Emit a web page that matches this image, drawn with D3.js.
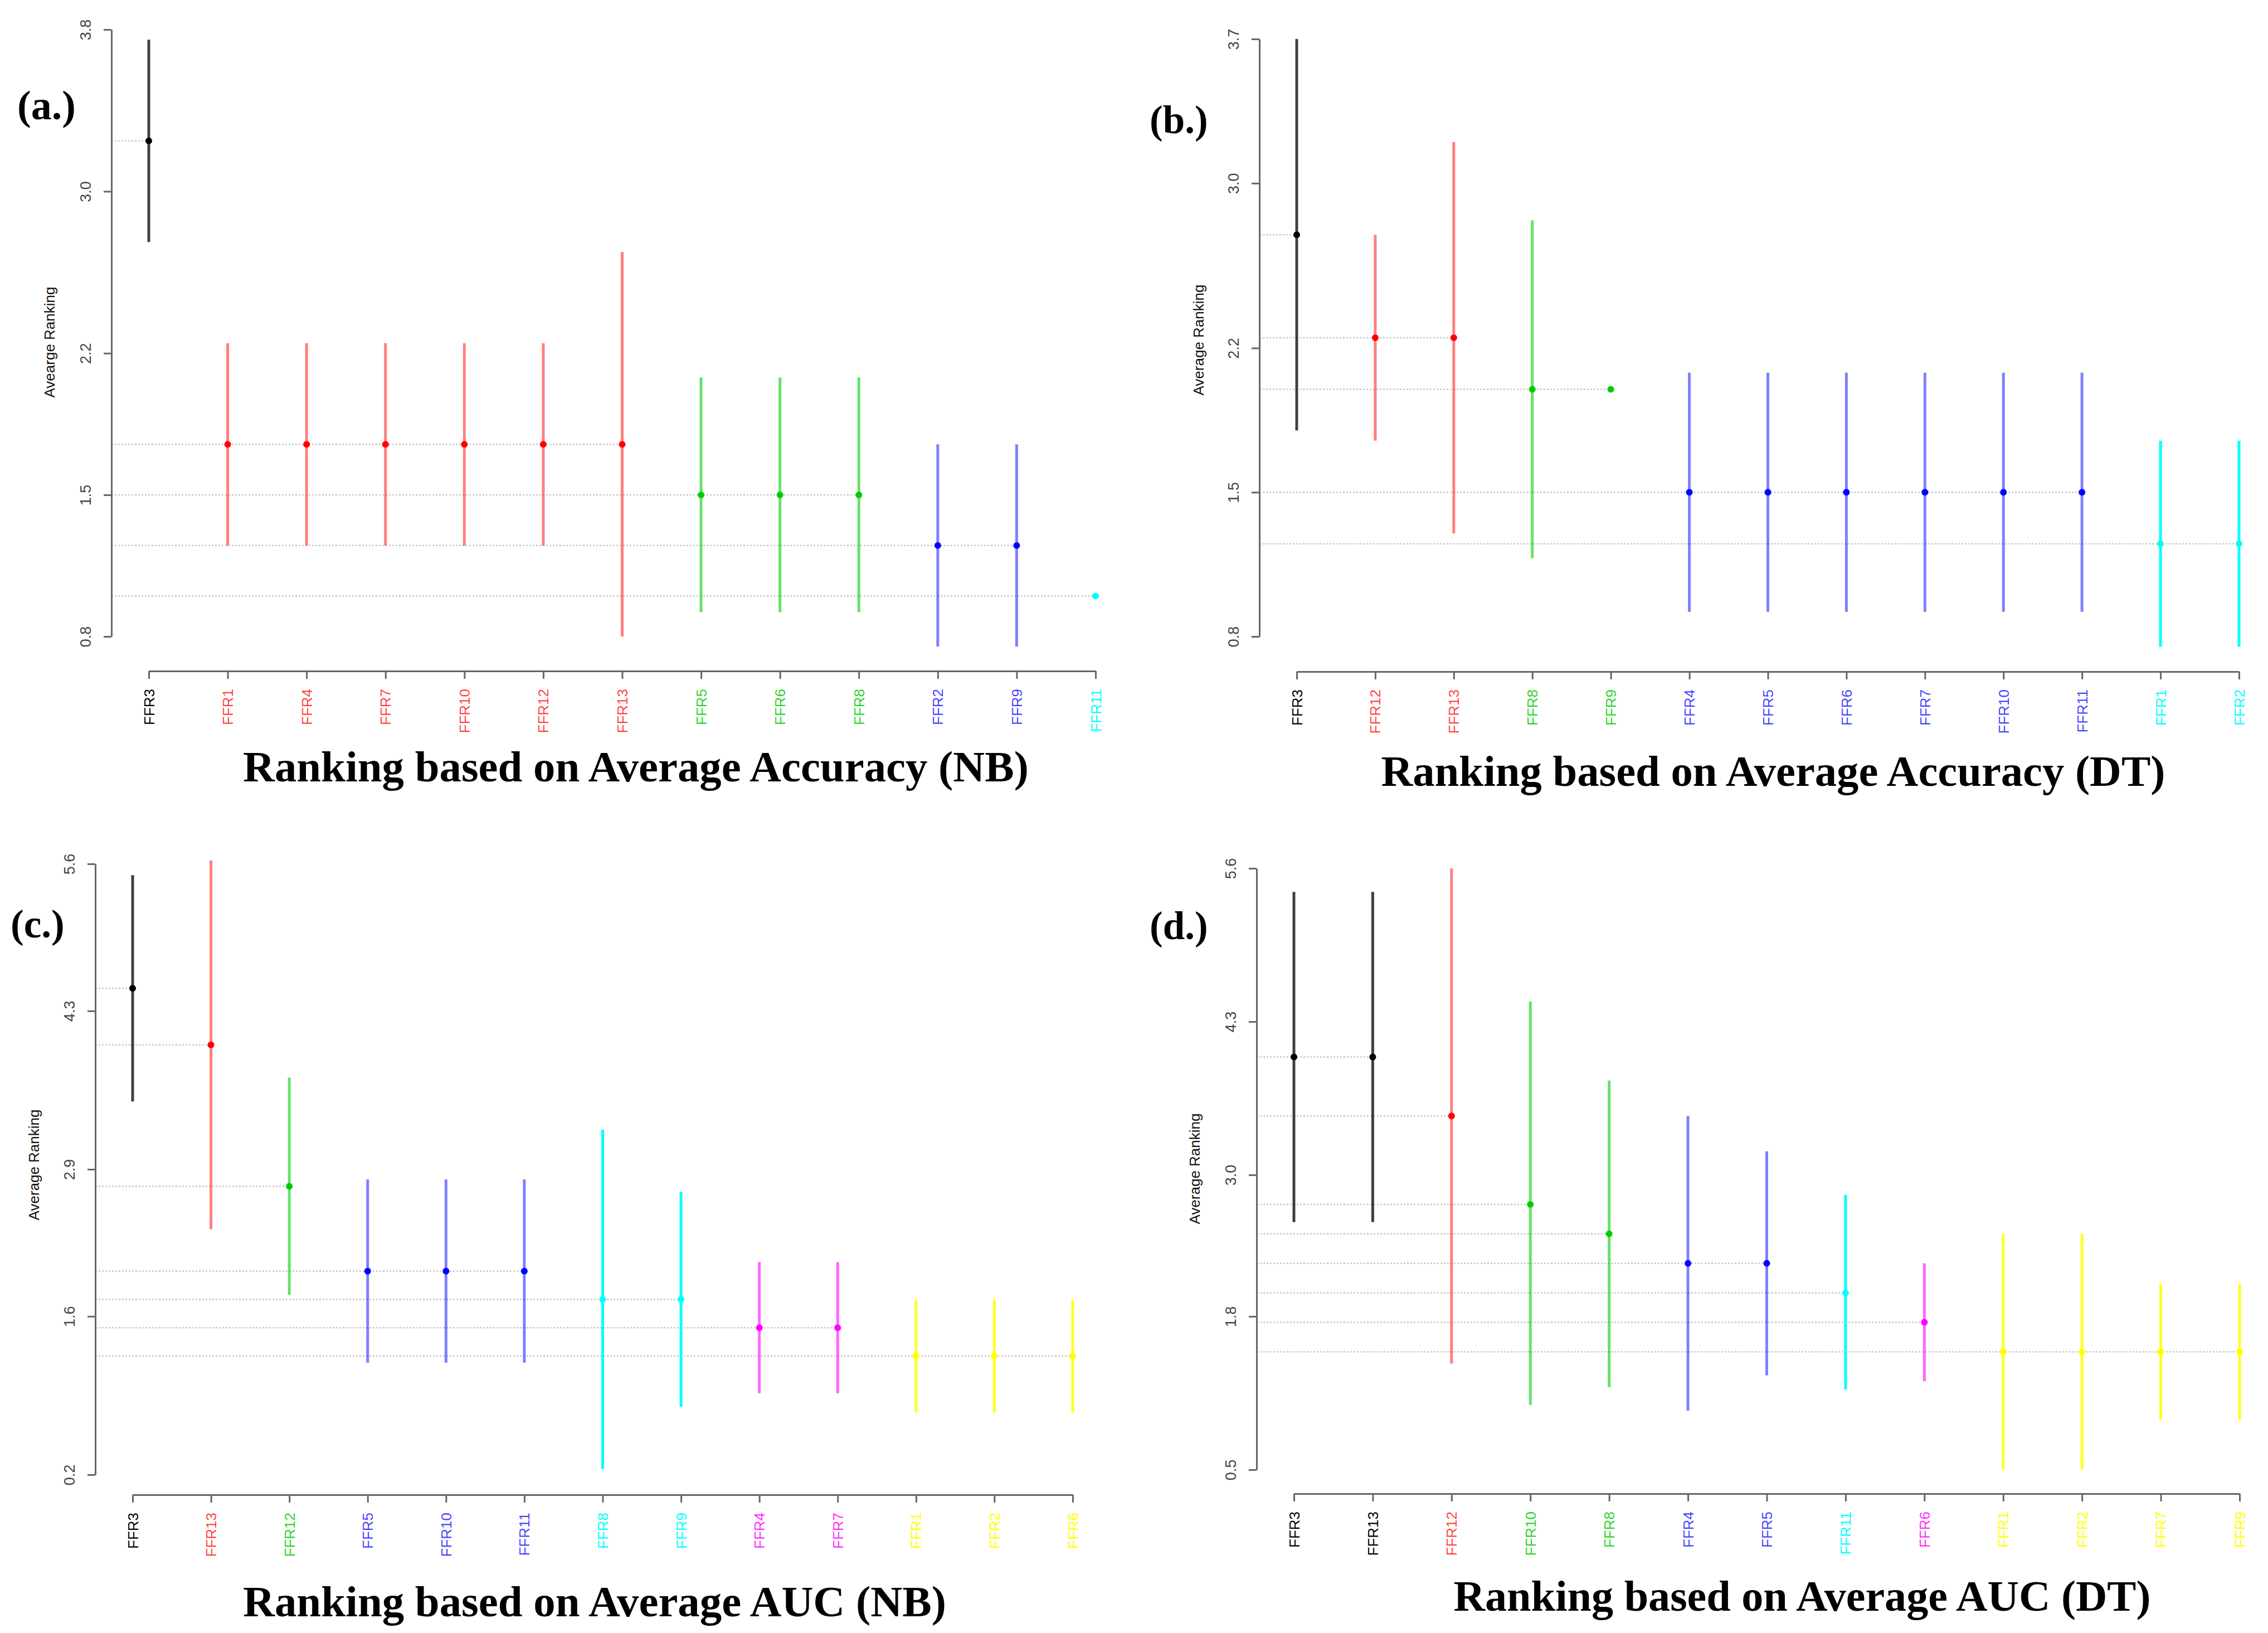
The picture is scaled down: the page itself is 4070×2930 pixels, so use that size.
<!DOCTYPE html>
<html>
<head>
<meta charset="utf-8">
<script src="https://cdn.jsdelivr.net/npm/d3@7"></script>
<style>
  body { margin: 0; background: #fff; }
  svg { display: block; }
</style>
</head>
<body>
<div class="vis"></div>
<script>
// colours used by the groups (R default palette)
const groupColors = ["#000000", "#FF0000", "#00CD00", "#0000FF", "#00FFFF", "#FF00FF", "#FFFF00"];
const barOpacity = [0.75, 0.5, 0.6, 0.5, 1, 0.6, 0.85];

// (a.) Average Accuracy (NB)
const aCats = ["FFR3", "FFR1", "FFR4", "FFR7", "FFR10", "FFR12", "FFR13", "FFR5", "FFR6", "FFR8", "FFR2", "FFR9", "FFR11"];
const aGroup = [0, 1, 1, 1, 1, 1, 1, 2, 2, 2, 3, 3, 4];
const aMean = [3.25, 1.75, 1.75, 1.75, 1.75, 1.75, 1.75, 1.5, 1.5, 1.5, 1.25, 1.25, 1.0];
const aLow = [2.75, 1.25, 1.25, 1.25, 1.25, 1.25, 0.8, 0.92, 0.92, 0.92, 0.75, 0.75, 1.0];
const aHigh = [3.75, 2.25, 2.25, 2.25, 2.25, 2.25, 2.7, 2.08, 2.08, 2.08, 1.75, 1.75, 1.0];
const aTicks = [0.8, 1.5, 2.2, 3.0, 3.8];

// (b.) Average Accuracy (DT)
const bCats = ["FFR3", "FFR12", "FFR13", "FFR8", "FFR9", "FFR4", "FFR5", "FFR6", "FFR7", "FFR10", "FFR11", "FFR1", "FFR2"];
const bGroup = [0, 1, 1, 2, 2, 3, 3, 3, 3, 3, 3, 4, 4];
const bMean = [2.75, 2.25, 2.25, 2.0, 2.0, 1.5, 1.5, 1.5, 1.5, 1.5, 1.5, 1.25, 1.25];
const bLow = [1.8, 1.75, 1.3, 1.18, 2.0, 0.92, 0.92, 0.92, 0.92, 0.92, 0.92, 0.75, 0.75];
const bHigh = [3.7, 2.75, 3.2, 2.82, 2.0, 2.08, 2.08, 2.08, 2.08, 2.08, 2.08, 1.75, 1.75];
const bTicks = [0.8, 1.5, 2.2, 3.0, 3.7];

// (c.) Average AUC (NB)
const cCats = ["FFR3", "FFR13", "FFR12", "FFR5", "FFR10", "FFR11", "FFR8", "FFR9", "FFR4", "FFR7", "FFR1", "FFR2", "FFR6"];
const cGroup = [0, 1, 2, 3, 3, 3, 4, 4, 5, 5, 6, 6, 6];
const cMean = [4.5, 4.0, 2.75, 2.0, 2.0, 2.0, 1.75, 1.75, 1.5, 1.5, 1.25, 1.25, 1.25];
const cLow = [3.5, 2.37, 1.79, 1.19, 1.19, 1.19, 0.25, 0.8, 0.92, 0.92, 0.75, 0.75, 0.75];
const cHigh = [5.5, 5.63, 3.71, 2.81, 2.81, 2.81, 3.25, 2.7, 2.08, 2.08, 1.75, 1.75, 1.75];
const cTicks = [0.2, 1.6, 2.9, 4.3, 5.6];

// (d.) Average AUC (DT)
const dCats = ["FFR3", "FFR13", "FFR12", "FFR10", "FFR8", "FFR4", "FFR5", "FFR11", "FFR6", "FFR1", "FFR2", "FFR7", "FFR9"];
const dGroup = [0, 0, 1, 2, 2, 3, 3, 4, 5, 6, 6, 6, 6];
const dMean = [4.0, 4.0, 3.5, 2.75, 2.5, 2.25, 2.25, 2.0, 1.75, 1.5, 1.5, 1.5, 1.5];
const dLow = [2.6, 2.6, 1.4, 1.05, 1.2, 1.0, 1.3, 1.18, 1.25, 0.5, 0.5, 0.92, 0.92];
const dHigh = [5.4, 5.4, 5.6, 4.47, 3.8, 3.5, 3.2, 2.83, 2.25, 2.5, 2.5, 2.08, 2.08];
const dTicks = [0.5, 1.8, 3.0, 4.3, 5.6];

const width = 4070, height = 2930;

const svg = d3.select(".vis").append("svg")
    .attr("width", width)
    .attr("height", height)
    .style("background", "#fff");

// layout of each panel, in page pixels
const panels = [
    {tag: "(a.)", title: "Ranking based on Average Accuracy (NB)", yTitle: "Avearge Ranking",
     cats: aCats, group: aGroup, mean: aMean, low: aLow, high: aHigh, ticks: aTicks,
     axisX: 200, yTop: 53, yBot: 1142, xFirst: 267, xLast: 1966, axisY: 1204,
     tagX: 31, tagY: 214, tagSize: 74, titleX: 1141, titleY: 1402, titleW: 1410, yTitleX: 89, yTitleY: 614},
    {tag: "(b.)", title: "Ranking based on Average Accuracy (DT)", yTitle: "Average Ranking",
     cats: bCats, group: bGroup, mean: bMean, low: bLow, high: bHigh, ticks: bTicks,
     axisX: 2260, yTop: 70, yBot: 1142, xFirst: 2327, xLast: 4018, axisY: 1205,
     tagX: 2063, tagY: 239, tagSize: 71, titleX: 3182, titleY: 1410, titleW: 1407, yTitleX: 2151, yTitleY: 610},
    {tag: "(c.)", title: "Ranking based on Average AUC (NB)", yTitle: "Average Ranking",
     cats: cCats, group: cGroup, mean: cMean, low: cLow, high: cHigh, ticks: cTicks,
     axisX: 171, yTop: 1550, yBot: 2646, xFirst: 238, xLast: 1925, axisY: 2682,
     tagX: 19, tagY: 1682, tagSize: 71, titleX: 1067, titleY: 2900, titleW: 1262, yTitleX: 61, yTitleY: 2090},
    {tag: "(d.)", title: "Ranking based on Average AUC (DT)", yTitle: "Average Ranking",
     cats: dCats, group: dGroup, mean: dMean, low: dLow, high: dHigh, ticks: dTicks,
     axisX: 2255, yTop: 1558, yBot: 2637, xFirst: 2322, xLast: 4019, axisY: 2680,
     tagX: 2063, tagY: 1685, tagSize: 71, titleX: 3234, titleY: 2890, titleW: 1251, yTitleX: 2144, yTitleY: 2097}
];

panels.forEach(function (p) {
    const g = svg.append("g");
    const ext = d3.extent(p.ticks);

    const x = d3.scalePoint().domain(p.cats).range([p.xFirst, p.xLast]);
    const y = d3.scaleLinear().domain(ext).range([p.yBot, p.yTop]);

    const rows = p.cats.map((c, i) => ({cat: c, grp: p.group[i], m: p.mean[i], lo: p.low[i], hi: p.high[i]}));

    // dotted reference lines from the axis to the last point at each mean
    const lastAt = d3.rollup(rows, v => d3.max(v, r => x(r.cat)), r => r.m);
    g.append("g").selectAll("line")
        .data(Array.from(lastAt, ([m, xe]) => ({m: m, xe: xe})))
        .join("line")
        .attr("x1", p.axisX)
        .attr("x2", d => d.xe)
        .attr("y1", d => y(d.m))
        .attr("y2", d => y(d.m))
        .style("stroke", "#c8c8c8")
        .style("stroke-width", 2.5)
        .style("stroke-dasharray", "3,3");

    // error bars
    g.append("g").selectAll("line")
        .data(rows)
        .join("line")
        .attr("x1", d => x(d.cat))
        .attr("x2", d => x(d.cat))
        .attr("y1", d => y(d.lo))
        .attr("y2", d => y(d.hi))
        .style("stroke", d => groupColors[d.grp])
        .style("stroke-opacity", d => barOpacity[d.grp])
        .style("stroke-width", 5);

    // mean points
    g.append("g").selectAll("circle")
        .data(rows)
        .join("circle")
        .attr("cx", d => x(d.cat))
        .attr("cy", d => y(d.m))
        .attr("r", 6)
        .style("fill", d => groupColors[d.grp]);

    // y axis
    const yAxis = g.append("g")
        .attr("transform", "translate(" + p.axisX + ",0)")
        .call(d3.axisLeft(y).tickValues(p.ticks).tickFormat(d3.format(".1f")).tickSize(14).tickSizeOuter(0));
    yAxis.select(".domain").style("stroke", "#666").style("stroke-width", 3);
    yAxis.selectAll(".tick line").style("stroke", "#666").style("stroke-width", 3);
    yAxis.selectAll(".tick text")
        .attr("x", null).attr("dy", null)
        .attr("transform", "translate(-46,0) rotate(-90)")
        .attr("text-anchor", "middle")
        .attr("dominant-baseline", "central")
        .style("font-family", "Liberation Sans, Arial, sans-serif")
        .style("font-size", "27px")
        .style("fill", "#444");

    // x axis
    const xAxis = g.append("g")
        .attr("transform", "translate(0," + p.axisY + ")")
        .call(d3.axisBottom(x).tickSize(14).tickSizeOuter(0));
    xAxis.select(".domain").style("stroke", "#666").style("stroke-width", 3);
    xAxis.selectAll(".tick line").style("stroke", "#666").style("stroke-width", 3);
    xAxis.selectAll(".tick text")
        .attr("y", null).attr("dy", null)
        .attr("transform", "translate(0,32) rotate(-90)")
        .attr("text-anchor", "end")
        .attr("dominant-baseline", "central")
        .style("font-family", "Liberation Sans, Arial, sans-serif")
        .style("font-size", "26px")
        .style("fill", (d, i) => groupColors[p.group[i]])
        .style("fill-opacity", (d, i) => Math.min(1, barOpacity[p.group[i]] + 0.25));

    // y axis title
    g.append("text")
        .attr("transform", "translate(" + p.yTitleX + "," + p.yTitleY + ") rotate(-90)")
        .attr("text-anchor", "middle")
        .attr("dominant-baseline", "central")
        .text(p.yTitle)
        .style("font-family", "Liberation Sans, Arial, sans-serif")
        .style("font-size", "26px")
        .style("fill", "#111");

    // panel tag
    g.append("text")
        .attr("x", p.tagX)
        .attr("y", p.tagY)
        .text(p.tag)
        .style("font-family", "Liberation Serif, Times New Roman, serif")
        .style("font-weight", "bold")
        .style("font-size", p.tagSize + "px")
        .style("fill", "#000");

    // panel title
    g.append("text")
        .attr("x", p.titleX)
        .attr("y", p.titleY)
        .attr("text-anchor", "middle")
        .attr("textLength", p.titleW)
        .attr("lengthAdjust", "spacingAndGlyphs")
        .text(p.title)
        .style("font-family", "Liberation Serif, Times New Roman, serif")
        .style("font-weight", "bold")
        .style("font-size", "78px")
        .style("fill", "#000");
});
</script>
</body>
</html>
